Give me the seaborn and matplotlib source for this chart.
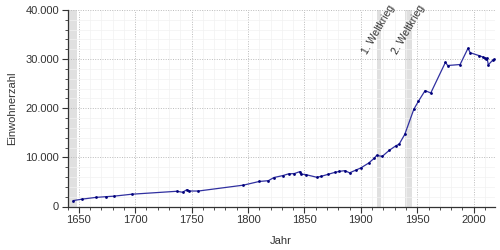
import matplotlib
matplotlib.use("Agg")
import matplotlib.pyplot as plt
import matplotlib.ticker as mticker
import seaborn as sns
import pandas as pd

years = [1645, 1653, 1665, 1674, 1681, 1697, 1737, 1742, 1746, 1748, 1756,
         1796, 1810, 1818, 1823, 1831, 1836, 1841, 1846, 1847, 1851, 1861,
         1865, 1871, 1877, 1881, 1886, 1890, 1896, 1900, 1907, 1912, 1914,
         1919, 1925, 1931, 1934, 1939, 1947, 1951, 1957, 1962, 1975, 1977,
         1988, 1995, 1997, 2005, 2008, 2010, 2011, 2012, 2013, 2017, 2018]
population = [1200, 1500, 1850, 2000, 2100, 2500, 3100, 2900, 3450, 3150, 3150,
              4350, 5100, 5250, 5900, 6300, 6650, 6700, 7100, 6600, 6500, 5950,
              6150, 6550, 6950, 7150, 7300, 6850, 7450, 7850, 8850, 9850, 10400,
              10200, 11400, 12350, 12700, 14700, 19800, 21400, 23600, 23100, 29350, 28700,
              28900, 32200, 31300, 30700, 30450, 30200, 30000, 30150, 28850, 29800, 29950]

band_starts = [1618, 1914, 1939]
band_ends = [1648, 1918, 1945]
band_labels = ["", "1. Weltkrieg", "2. Weltkrieg"]

df = pd.DataFrame({"Jahr": years, "Einwohnerzahl": population})

sns.set_theme(style="white")
plt.rcParams["font.family"] = ["Liberation Sans", "DejaVu Sans"]

fig = plt.figure(figsize=(5, 2.5), dpi=100)
ax = fig.add_axes([0.135, 0.174, 0.854, 0.786])

for s, e, lab in zip(band_starts, band_ends, band_labels):
    ax.axvspan(s, e, color="#e0e0e0", lw=0, zorder=0)
    if lab:
        ax.text((s + e) / 2, 36000, lab, rotation=60, ha="center", va="center",
                fontsize=7.5, color="#333333", zorder=3)

sns.lineplot(data=df, x="Jahr", y="Einwohnerzahl", ax=ax, color="#3030a0",
             lw=0.9, marker="o", markersize=2.0, markeredgewidth=0,
             markerfacecolor="#00007a", zorder=4)

ax.set_xlim(1640, 2018.5)
ax.set_ylim(0, 40000)
ax.xaxis.set_major_locator(mticker.MultipleLocator(50))
ax.xaxis.set_minor_locator(mticker.MultipleLocator(10))
ax.yaxis.set_major_locator(mticker.MultipleLocator(10000))
ax.yaxis.set_minor_locator(mticker.MultipleLocator(2000))
ax.yaxis.set_major_formatter(mticker.FuncFormatter(lambda v, p: f"{int(v):,}".replace(",", ".")))

ax.grid(which="major", color="#bbbbbb", linestyle=(0, (1, 1.5)), lw=0.7, zorder=1)
ax.grid(which="minor", color="#f2f2f2", linestyle="-", lw=0.5, zorder=1)
ax.set_axisbelow(True)

for side in ["top", "right"]:
    ax.spines[side].set_visible(False)
for side in ["left", "bottom"]:
    ax.spines[side].set_color("#333333")
    ax.spines[side].set_linewidth(0.9)

ax.tick_params(which="major", direction="out", length=4, width=0.8, color="#333333",
               labelsize=8, labelcolor="#333333", left=True, bottom=True, pad=2)
ax.tick_params(which="minor", direction="out", length=2.5, width=0.6, color="#333333",
               left=True, bottom=True)

ax.set_xlabel("Jahr", fontsize=8, color="#333333", labelpad=8)
ax.set_ylabel("Einwohnerzahl", fontsize=8, color="#333333", labelpad=6)

fig.savefig("out.png", dpi=100)
